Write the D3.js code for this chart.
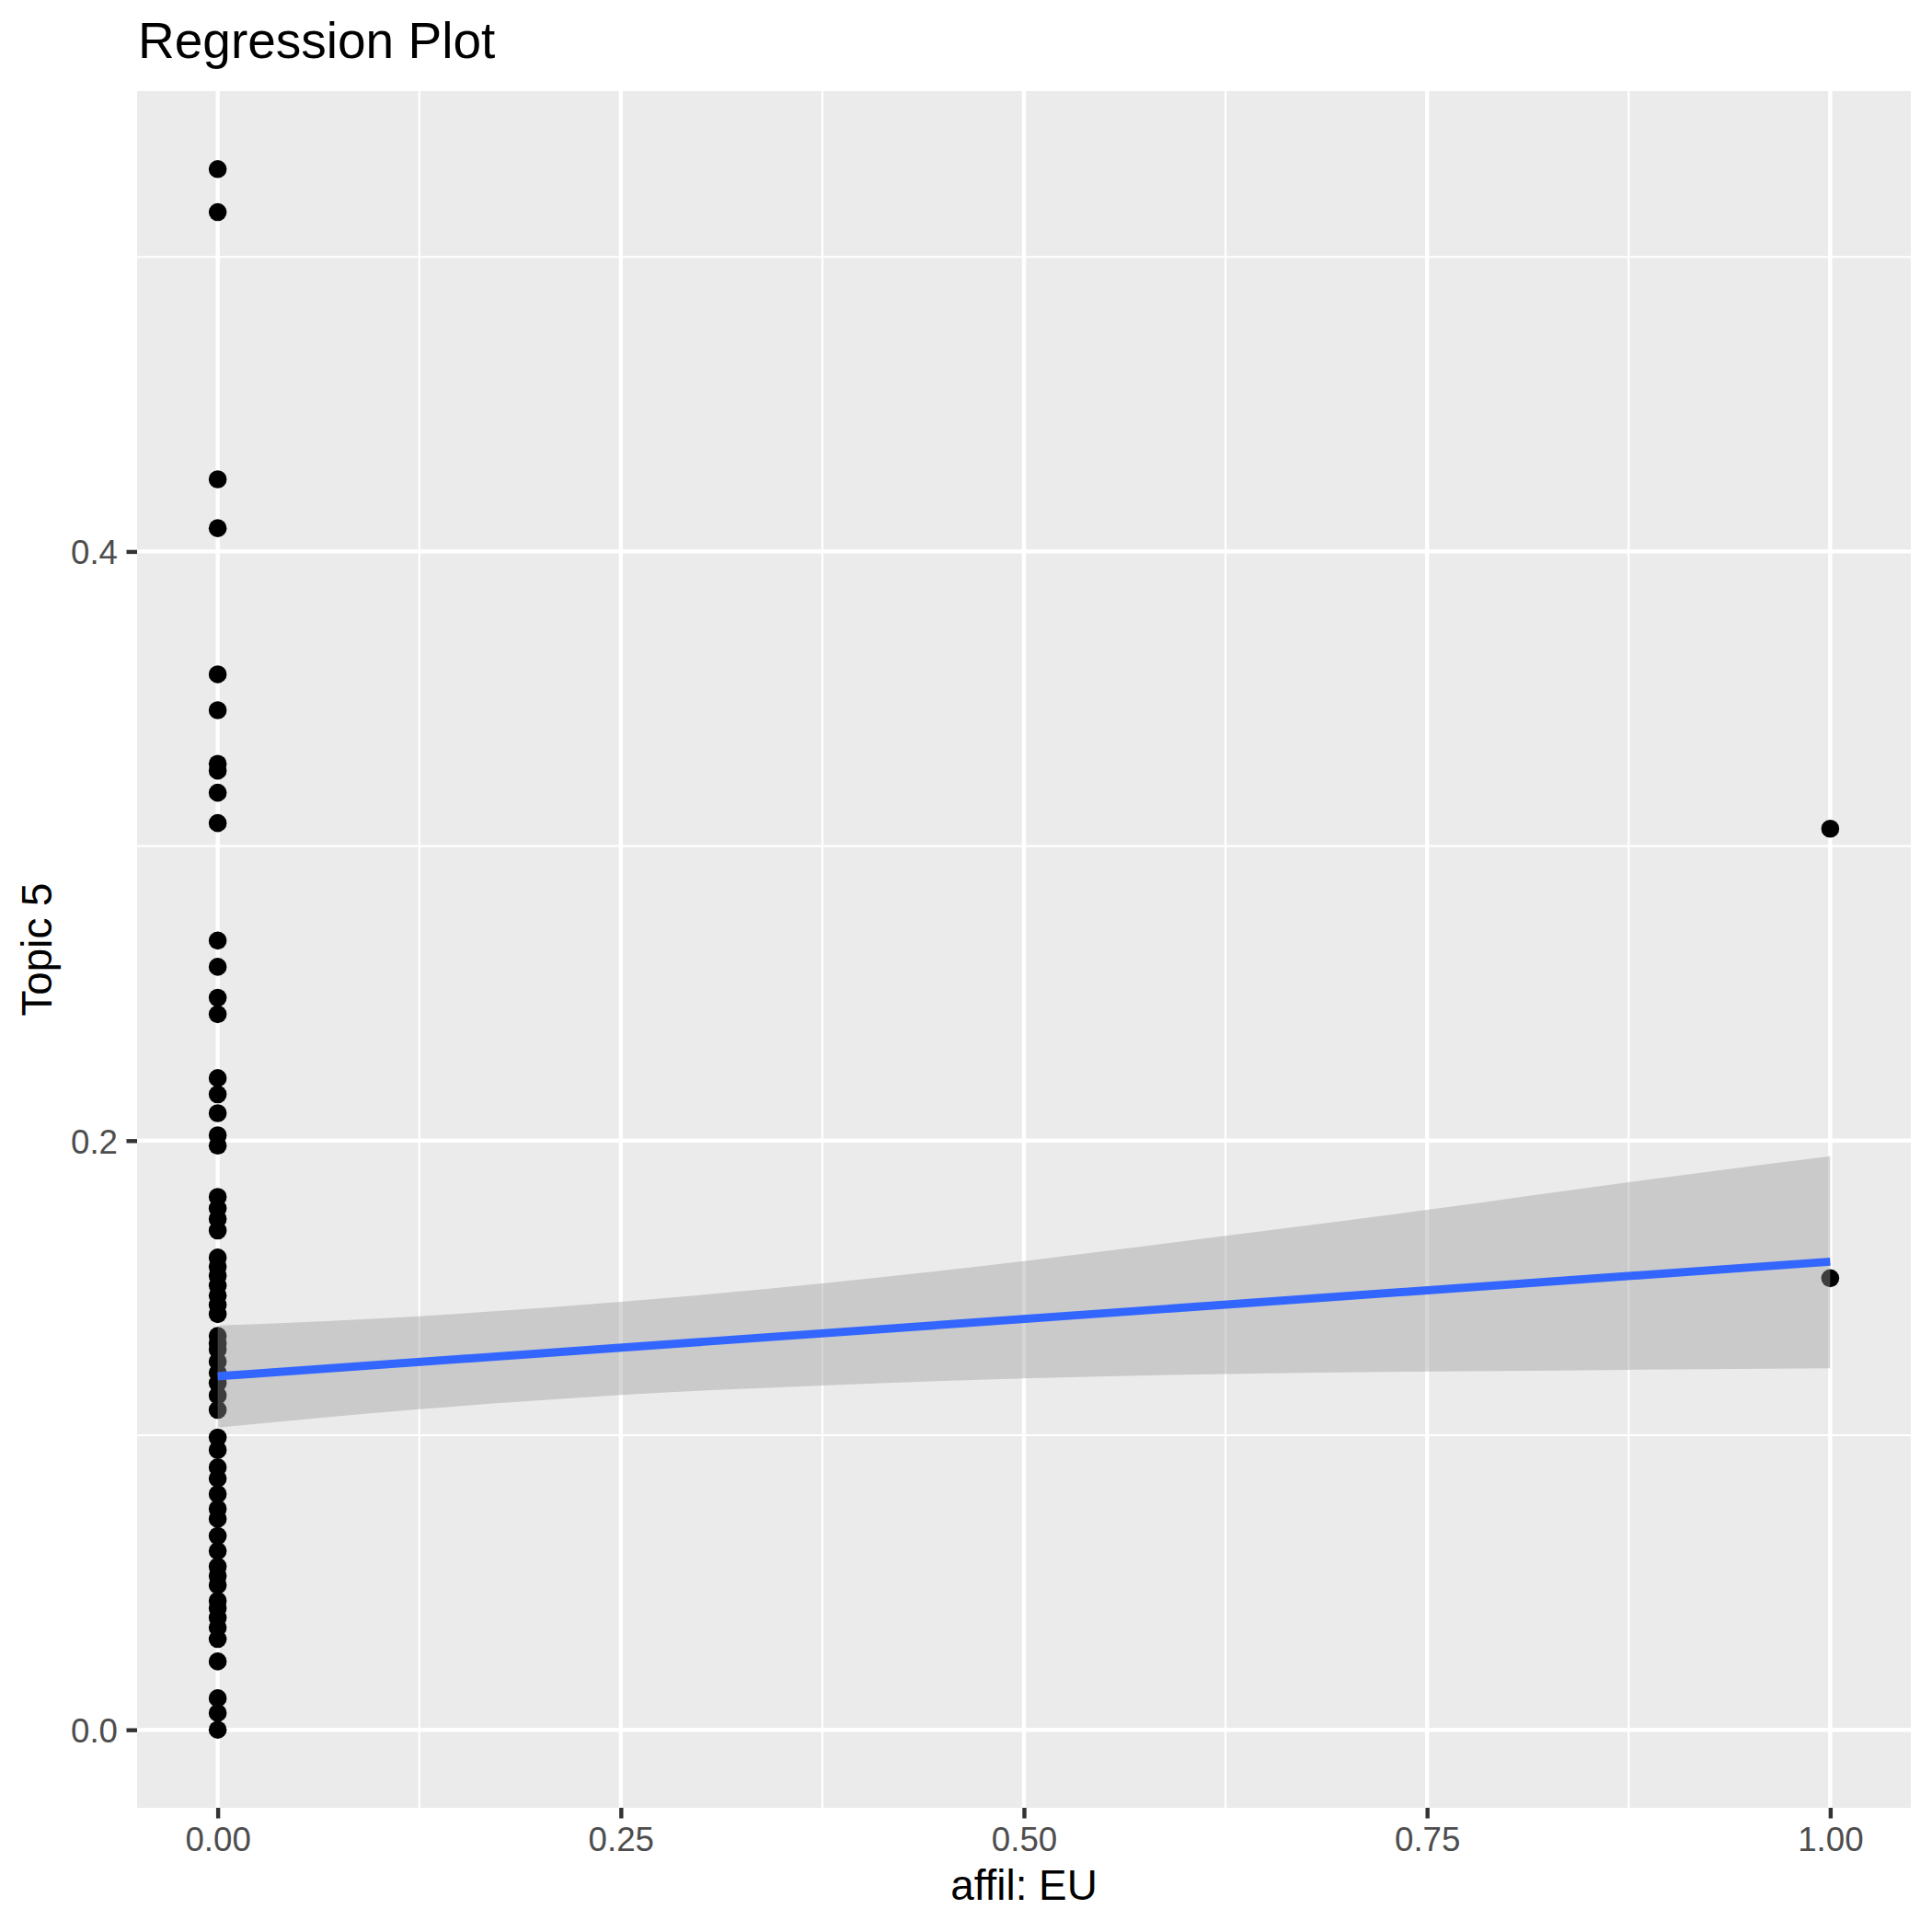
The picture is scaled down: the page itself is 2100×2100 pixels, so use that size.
<!DOCTYPE html>
<html>
<head>
<meta charset="utf-8">
<script src="https://cdn.jsdelivr.net/npm/d3@7"></script>
<style>
  html, body { margin: 0; padding: 0; background: #ffffff; }
  svg { display: block; }
  text { font-family: "Liberation Sans", Arial, Helvetica, sans-serif; }
</style>
</head>
<body>
<svg id="chart" width="2100" height="2100"></svg>
<script>
// ---------- data ----------
const titleText = "Regression Plot";
const xTitle = "affil: EU";
const yTitle = "Topic 5";

// observations with affil: EU = 0
const group0Values = [
  0.5298, 0.5152, 0.4245, 0.4079, 0.3583, 0.3461, 0.3279, 0.3256, 0.3181, 0.3078,
  0.2679, 0.2590, 0.2485, 0.2429, 0.2212, 0.2157, 0.2093, 0.2018, 0.1983, 0.1809,
  0.1770, 0.1734, 0.1695, 0.1603, 0.1572, 0.1541, 0.1508, 0.1474, 0.1442, 0.1411,
  0.1337, 0.1311, 0.1291, 0.1250, 0.1212, 0.1177, 0.1135, 0.1086, 0.0992, 0.0950,
  0.0891, 0.0853, 0.0800, 0.0750, 0.0716, 0.0658, 0.0607, 0.0554, 0.0522, 0.0491,
  0.0438, 0.0413, 0.0380, 0.0347, 0.0308, 0.0232, 0.0107, 0.0057, 0.0000
];
// observations with affil: EU = 1
const group1Values = [0.3059, 0.1533];

// fitted linear model and its 95% confidence band
const fitX = [0, 1];
const fitY = [0.1200, 0.1589];
const bandX = [0, 0.125, 0.25, 0.375, 0.5, 0.625, 0.75, 0.875, 1];
const bandLow = [0.1026, 0.1088, 0.1137, 0.1169, 0.1193, 0.1208, 0.1216, 0.1222, 0.1227];
const bandHigh = [0.1372, 0.1404, 0.1453, 0.1515, 0.1591, 0.1677, 0.1765, 0.1859, 0.1947];

const xTicks = [0, 0.25, 0.5, 0.75, 1];
const xTickLabels = ["0.00", "0.25", "0.50", "0.75", "1.00"];
const xMinor = [0.125, 0.375, 0.625, 0.875];
const yTicks = [0, 0.2, 0.4];
const yTickLabels = ["0.0", "0.2", "0.4"];
const yMinor = [0.1, 0.3, 0.5];

// ---------- layout ----------
const panel = { left: 149, right: 2077, top: 99, bottom: 1965 };
const svg = d3.select("#chart");

const points = group0Values.map(v => ({ x: 0, y: v }))
  .concat(group1Values.map(v => ({ x: 1, y: v })));

const xs = points.map(d => d.x);
const ys = points.map(d => d.y).concat(bandLow, bandHigh);
const xMinV = d3.min(xs), xMaxV = d3.max(xs);
const yMinV = d3.min(ys), yMaxV = d3.max(ys);
const xPad = (xMaxV - xMinV) * 0.05, yPad = (yMaxV - yMinV) * 0.05;

const x = d3.scaleLinear().domain([xMinV - xPad, xMaxV + xPad]).range([panel.left, panel.right]);
const y = d3.scaleLinear().domain([yMinV - yPad, yMaxV + yPad]).range([panel.bottom, panel.top]);

// background
svg.append("rect").attr("x", 0).attr("y", 0).attr("width", 2100).attr("height", 2100).attr("fill", "#ffffff");
svg.append("rect")
  .attr("x", panel.left).attr("y", panel.top)
  .attr("width", panel.right - panel.left).attr("height", panel.bottom - panel.top)
  .attr("fill", "#EBEBEB");

// grid
const grid = svg.append("g");
grid.selectAll(".xminor").data(xMinor).enter().append("line")
  .attr("x1", d => x(d)).attr("x2", d => x(d))
  .attr("y1", panel.top).attr("y2", panel.bottom)
  .attr("stroke", "#ffffff").attr("stroke-width", 2.2);
grid.selectAll(".yminor").data(yMinor).enter().append("line")
  .attr("y1", d => y(d)).attr("y2", d => y(d))
  .attr("x1", panel.left).attr("x2", panel.right)
  .attr("stroke", "#ffffff").attr("stroke-width", 2.2);
grid.selectAll(".xmajor").data(xTicks).enter().append("line")
  .attr("x1", d => x(d)).attr("x2", d => x(d))
  .attr("y1", panel.top).attr("y2", panel.bottom)
  .attr("stroke", "#ffffff").attr("stroke-width", 4.4);
grid.selectAll(".ymajor").data(yTicks).enter().append("line")
  .attr("y1", d => y(d)).attr("y2", d => y(d))
  .attr("x1", panel.left).attr("x2", panel.right)
  .attr("stroke", "#ffffff").attr("stroke-width", 4.4);

// points
svg.append("g").selectAll("circle").data(points).enter().append("circle")
  .attr("cx", d => x(d.x)).attr("cy", d => y(d.y))
  .attr("r", 9.8).attr("fill", "#000000");

// confidence band
const band = bandX.map((bx, i) => ({ x: bx, lo: bandLow[i], hi: bandHigh[i] }));
svg.append("path").datum(band)
  .attr("d", d3.area().x(d => x(d.x)).y0(d => y(d.lo)).y1(d => y(d.hi)).curve(d3.curveMonotoneX))
  .attr("fill", "#999999").attr("fill-opacity", 0.4);

// fit line
const fit = fitX.map((fx, i) => ({ x: fx, y: fitY[i] }));
svg.append("path").datum(fit)
  .attr("d", d3.line().x(d => x(d.x)).y(d => y(d.y)))
  .attr("fill", "none").attr("stroke", "#3366FF").attr("stroke-width", 8.9);

// axes
const xAxis = d3.axisBottom(x).tickValues(xTicks)
  .tickFormat((d, i) => xTickLabels[i]).tickSizeInner(11.5).tickSizeOuter(0).tickPadding(9);
const gx = svg.append("g").attr("transform", `translate(0,${panel.bottom})`).call(xAxis);
gx.select(".domain").remove();
gx.selectAll(".tick line").attr("stroke", "#333333").attr("stroke-width", 4.4);
gx.selectAll(".tick text")
  .attr("fill", "#4D4D4D").attr("font-size", 36.7)
  .attr("font-family", "Liberation Sans, Arial, sans-serif")
  .attr("dy", null).attr("y", 47);

const yAxis = d3.axisLeft(y).tickValues(yTicks)
  .tickFormat((d, i) => yTickLabels[i]).tickSizeInner(11.5).tickSizeOuter(0).tickPadding(9);
const gy = svg.append("g").attr("transform", `translate(${panel.left},0)`).call(yAxis);
gy.select(".domain").remove();
gy.selectAll(".tick line").attr("stroke", "#333333").attr("stroke-width", 4.4);
gy.selectAll(".tick text")
  .attr("fill", "#4D4D4D").attr("font-size", 36.7)
  .attr("font-family", "Liberation Sans, Arial, sans-serif")
  .attr("x", -21).attr("dy", "0.36em");

// titles
svg.append("text").attr("x", 150).attr("y", 63)
  .attr("font-size", 55).attr("fill", "#000000").text(titleText);
svg.append("text").attr("x", (panel.left + panel.right) / 2).attr("y", 2065)
  .attr("text-anchor", "middle").attr("font-size", 45.8).attr("fill", "#000000").text(xTitle);
svg.append("text")
  .attr("transform", `translate(56,${(panel.top + panel.bottom) / 2}) rotate(-90)`)
  .attr("text-anchor", "middle").attr("font-size", 45.8).attr("fill", "#000000").text(yTitle);
</script>
</body>
</html>
